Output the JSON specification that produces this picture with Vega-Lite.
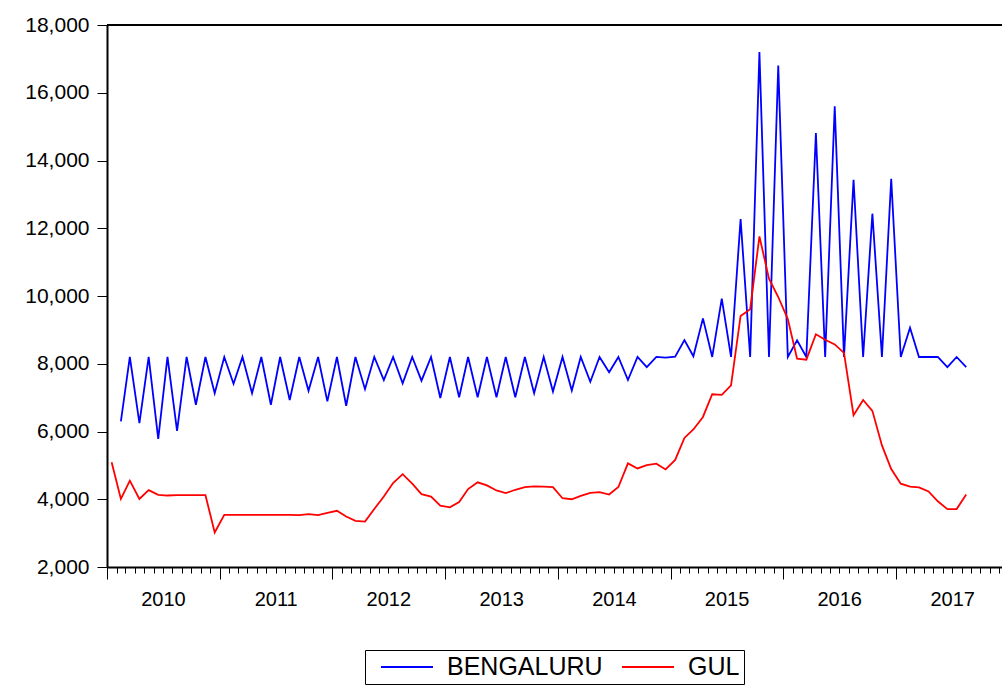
{
  "$schema": "https://vega.github.io/schema/vega-lite/v6.json",
  "autosize": {"type": "none"},
  "padding": {"left": 107, "top": 25, "right": 0, "bottom": 119},
  "width": 895,
  "height": 542,
  "background": "white",
  "config": {"view": {"stroke": null}},
  "data": {
    "values": [
      {"d": "2010-01-16", "GUL": 5090},
      {"d": "2010-02-15", "BENGALURU": 6300, "GUL": 4010},
      {"d": "2010-03-16", "BENGALURU": 8200, "GUL": 4550},
      {"d": "2010-04-16", "BENGALURU": 6250, "GUL": 4010},
      {"d": "2010-05-16", "BENGALURU": 8200, "GUL": 4270},
      {"d": "2010-06-16", "BENGALURU": 5780, "GUL": 4130},
      {"d": "2010-07-16", "BENGALURU": 8200, "GUL": 4110},
      {"d": "2010-08-16", "BENGALURU": 6020, "GUL": 4120},
      {"d": "2010-09-16", "BENGALURU": 8200, "GUL": 4120},
      {"d": "2010-10-16", "BENGALURU": 6790, "GUL": 4120},
      {"d": "2010-11-16", "BENGALURU": 8200, "GUL": 4120},
      {"d": "2010-12-16", "BENGALURU": 7130, "GUL": 3020},
      {"d": "2011-01-16", "BENGALURU": 8200, "GUL": 3540},
      {"d": "2011-02-15", "BENGALURU": 7410, "GUL": 3540},
      {"d": "2011-03-16", "BENGALURU": 8200, "GUL": 3540},
      {"d": "2011-04-16", "BENGALURU": 7130, "GUL": 3540},
      {"d": "2011-05-16", "BENGALURU": 8200, "GUL": 3540},
      {"d": "2011-06-16", "BENGALURU": 6790, "GUL": 3540},
      {"d": "2011-07-16", "BENGALURU": 8200, "GUL": 3540},
      {"d": "2011-08-16", "BENGALURU": 6930, "GUL": 3540},
      {"d": "2011-09-16", "BENGALURU": 8200, "GUL": 3530},
      {"d": "2011-10-16", "BENGALURU": 7200, "GUL": 3560},
      {"d": "2011-11-16", "BENGALURU": 8200, "GUL": 3530},
      {"d": "2011-12-16", "BENGALURU": 6890, "GUL": 3600},
      {"d": "2012-01-16", "BENGALURU": 8200, "GUL": 3660},
      {"d": "2012-02-15", "BENGALURU": 6760, "GUL": 3490},
      {"d": "2012-03-16", "BENGALURU": 8200, "GUL": 3360},
      {"d": "2012-04-16", "BENGALURU": 7250, "GUL": 3340},
      {"d": "2012-05-16", "BENGALURU": 8200, "GUL": 3710},
      {"d": "2012-06-16", "BENGALURU": 7520, "GUL": 4080},
      {"d": "2012-07-16", "BENGALURU": 8200, "GUL": 4480},
      {"d": "2012-08-16", "BENGALURU": 7420, "GUL": 4740},
      {"d": "2012-09-16", "BENGALURU": 8200, "GUL": 4460},
      {"d": "2012-10-16", "BENGALURU": 7500, "GUL": 4150},
      {"d": "2012-11-16", "BENGALURU": 8200, "GUL": 4080},
      {"d": "2012-12-16", "BENGALURU": 6990, "GUL": 3810},
      {"d": "2013-01-16", "BENGALURU": 8200, "GUL": 3760},
      {"d": "2013-02-15", "BENGALURU": 7010, "GUL": 3920},
      {"d": "2013-03-16", "BENGALURU": 8200, "GUL": 4300},
      {"d": "2013-04-16", "BENGALURU": 7010, "GUL": 4500},
      {"d": "2013-05-16", "BENGALURU": 8200, "GUL": 4410},
      {"d": "2013-06-16", "BENGALURU": 7010, "GUL": 4260},
      {"d": "2013-07-16", "BENGALURU": 8200, "GUL": 4180},
      {"d": "2013-08-16", "BENGALURU": 7010, "GUL": 4280},
      {"d": "2013-09-16", "BENGALURU": 8200, "GUL": 4360},
      {"d": "2013-10-16", "BENGALURU": 7130, "GUL": 4380},
      {"d": "2013-11-16", "BENGALURU": 8200, "GUL": 4370},
      {"d": "2013-12-16", "BENGALURU": 7180, "GUL": 4360},
      {"d": "2014-01-16", "BENGALURU": 8200, "GUL": 4030},
      {"d": "2014-02-15", "BENGALURU": 7210, "GUL": 4000},
      {"d": "2014-03-16", "BENGALURU": 8200, "GUL": 4100},
      {"d": "2014-04-16", "BENGALURU": 7470, "GUL": 4190},
      {"d": "2014-05-16", "BENGALURU": 8200, "GUL": 4210},
      {"d": "2014-06-16", "BENGALURU": 7750, "GUL": 4140},
      {"d": "2014-07-16", "BENGALURU": 8200, "GUL": 4360},
      {"d": "2014-08-16", "BENGALURU": 7520, "GUL": 5060},
      {"d": "2014-09-16", "BENGALURU": 8200, "GUL": 4910},
      {"d": "2014-10-16", "BENGALURU": 7900, "GUL": 5010},
      {"d": "2014-11-16", "BENGALURU": 8200, "GUL": 5050},
      {"d": "2014-12-16", "BENGALURU": 8180, "GUL": 4880},
      {"d": "2015-01-16", "BENGALURU": 8210, "GUL": 5160},
      {"d": "2015-02-15", "BENGALURU": 8700, "GUL": 5810},
      {"d": "2015-03-16", "BENGALURU": 8220, "GUL": 6060},
      {"d": "2015-04-16", "BENGALURU": 9340, "GUL": 6430},
      {"d": "2015-05-16", "BENGALURU": 8200, "GUL": 7100},
      {"d": "2015-06-16", "BENGALURU": 9920, "GUL": 7080},
      {"d": "2015-07-16", "BENGALURU": 8200, "GUL": 7360},
      {"d": "2015-08-16", "BENGALURU": 12270, "GUL": 9410},
      {"d": "2015-09-16", "BENGALURU": 8200, "GUL": 9610},
      {"d": "2015-10-16", "BENGALURU": 17200, "GUL": 11760},
      {"d": "2015-11-16", "BENGALURU": 8200, "GUL": 10510},
      {"d": "2015-12-16", "BENGALURU": 16800, "GUL": 9970},
      {"d": "2016-01-16", "BENGALURU": 8200, "GUL": 9320},
      {"d": "2016-02-15", "BENGALURU": 8690, "GUL": 8150},
      {"d": "2016-03-16", "BENGALURU": 8200, "GUL": 8120},
      {"d": "2016-04-16", "BENGALURU": 14810, "GUL": 8870},
      {"d": "2016-05-16", "BENGALURU": 8200, "GUL": 8710},
      {"d": "2016-06-16", "BENGALURU": 15600, "GUL": 8570},
      {"d": "2016-07-16", "BENGALURU": 8200, "GUL": 8320},
      {"d": "2016-08-16", "BENGALURU": 13430, "GUL": 6480},
      {"d": "2016-09-16", "BENGALURU": 8200, "GUL": 6930},
      {"d": "2016-10-16", "BENGALURU": 12430, "GUL": 6610},
      {"d": "2016-11-16", "BENGALURU": 8200, "GUL": 5590},
      {"d": "2016-12-16", "BENGALURU": 13460, "GUL": 4890},
      {"d": "2017-01-16", "BENGALURU": 8200, "GUL": 4460},
      {"d": "2017-02-15", "BENGALURU": 9060, "GUL": 4370},
      {"d": "2017-03-16", "BENGALURU": 8200, "GUL": 4350},
      {"d": "2017-04-16", "BENGALURU": 8200, "GUL": 4230},
      {"d": "2017-05-16", "BENGALURU": 8200, "GUL": 3940},
      {"d": "2017-06-16", "BENGALURU": 7900, "GUL": 3710},
      {"d": "2017-07-16", "BENGALURU": 8200, "GUL": 3710},
      {"d": "2017-08-16", "BENGALURU": 7900, "GUL": 4140}
    ]
  },
  "layer": [
    {
      "transform": [{"fold": ["BENGALURU", "GUL"], "as": ["series", "value"]}],
      "mark": {"type": "line", "strokeWidth": 1.8, "strokeJoin": "miter", "clip": true},
      "encoding": {
        "x": {
          "field": "d",
          "type": "temporal",
          "scale": {
            "type": "utc",
            "nice": false,
            "domain": [
              {"year": 2010, "month": 1, "date": 1, "utc": true},
              {"year": 2017, "month": 12, "date": 10, "utc": true}
            ]
          },
          "axis": {
            "title": null,
            "grid": false,
            "tickCount": {"interval": "month", "step": 1},
            "tickSize": {"condition": {"test": "utcmonth(datum.value)==0", "value": 12}, "value": 6},
            "tickColor": "black",
            "tickWidth": 1,
            "domainColor": "black",
            "domainWidth": 2,
            "labelExpr": "utcmonth(datum.value)==0 ? utcFormat(datum.value, '%Y') : ''",
            "labelOffset": 56,
            "labelFlush": false,
            "labelOverlap": false,
            "labelBound": false,
            "labelFont": "Liberation Sans",
            "labelFontSize": 20,
            "labelColor": "black",
            "labelPadding": 10
          }
        },
        "y": {
          "field": "value",
          "type": "quantitative",
          "scale": {"domain": [2000, 18000], "nice": false, "zero": false},
          "axis": {
            "title": null,
            "grid": false,
            "values": [2000, 4000, 6000, 8000, 10000, 12000, 14000, 16000, 18000],
            "format": ",.0f",
            "tickSize": 10,
            "tickColor": "black",
            "tickWidth": 1,
            "domainColor": "black",
            "domainWidth": 2,
            "labelFont": "Liberation Sans",
            "labelFontSize": 21,
            "labelColor": "black",
            "labelPadding": 8
          }
        },
        "color": {
          "field": "series",
          "type": "nominal",
          "scale": {"domain": ["BENGALURU", "GUL"], "range": ["#0000FF", "#FF0000"]},
          "legend": {
            "title": null,
            "orient": "none",
            "legendX": 258,
            "legendY": 625,
            "direction": "horizontal",
            "strokeColor": "black",
            "fillColor": "white",
            "padding": 4,
            "symbolType": "stroke",
            "symbolSize": 2704,
            "symbolStrokeWidth": 2,
            "symbolOffset": 11,
            "labelOffset": 13,
            "columnPadding": 7,
            "clipHeight": 26,
            "labelFont": "Liberation Sans",
            "labelFontSize": 25,
            "labelColor": "black"
          }
        }
      }
    },
    {
      "mark": {"type": "rule", "color": "black", "strokeWidth": 2},
      "encoding": {"y": {"datum": 18000}}
    }
  ]
}
